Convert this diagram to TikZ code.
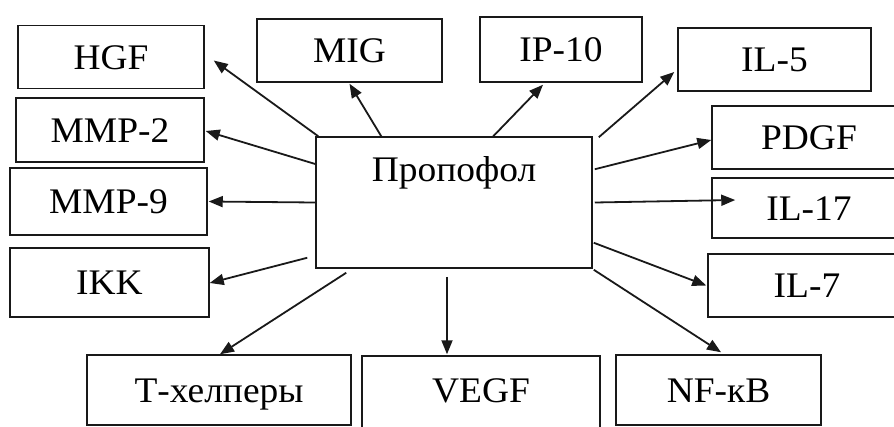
\documentclass[tikz,border=0pt]{standalone}
\usepackage{fontspec}
\setmainfont[FakeStretch=1.04]{Liberation Serif}
\usetikzlibrary{arrows.meta,calc}
\begin{document}
\begin{tikzpicture}[x=1pt,y=-1pt,
  box/.style={draw=black!90,line width=1.5pt,rectangle,inner sep=0pt,
    text height=24pt,text depth=0pt,font=\fontsize{36}{40}\selectfont},
  arr/.style={draw=black!90,line width=1.8pt,-{Triangle[length=14pt,width=11pt]}}]
\useasboundingbox (0,0) rectangle (894,426);
\clip (0,0) rectangle (894,426);
\node[box,minimum width=276,minimum height=131,
  label={[anchor=base,yshift=-45pt,inner sep=0pt,font=\fontsize{36}{40}\selectfont]north:Пропофол}] (c) at (454,202.5) {};
\node[box,minimum width=186,minimum height=63] (hgf) at (111,57) {HGF};
\node[box,minimum width=185,minimum height=63] (mig) at (349.5,50.5) {MIG};
\node[box,minimum width=162,minimum height=65] (ip) at (561,49.5) {IP-10};
\node[box,minimum width=193,minimum height=63] (il5) at (774.5,59.5) {IL-5};
\node[box,minimum width=194,minimum height=63] (pdgf) at (809,137.5) {PDGF};
\node[box,minimum width=194,minimum height=60] (il17) at (809,208) {IL-17};
\node[box,minimum width=198,minimum height=63] (il7) at (807,285.5) {IL-7};
\node[box,minimum width=188,minimum height=64] (mmp2) at (110,130) {MMP-2};
\node[box,minimum width=197,minimum height=67] (mmp9) at (108.5,201.5) {MMP-9};
\node[box,minimum width=199,minimum height=69] (ikk) at (109.5,282.5) {IKK};
\node[box,minimum width=264,minimum height=70] (th) at (219,390) {Т-хелперы};
\node[box,minimum width=238,minimum height=84] (vegf) at (481,398) {\raisebox{8pt}{VEGF}};
\node[box,minimum width=205,minimum height=70] (nfkb) at (718.5,390) {NF-кB};
\draw[arr] ($(c.north west)+(3,0)$) -- ($(hgf.east)+(9,3.5)$);
\draw[arr] ($(c.north west)+(66,0)$) -- ($(mig.south)+(0,1)$);
\draw[arr] ($(c.north west)+(178,0)$) -- ($(ip.south)+(-18,2)$);
\draw[arr] ($(c.north east)+(6,1)$) -- ($(il5.west)+(-3,12.5)$);
\draw[arr] ($(c.north east)+(2,33)$) -- ($(pdgf.west)+(0,2.5)$);
\draw[arr] ($(c.east)+(2,0)$) -- ($(il17.west)+(24,-8)$);
\draw[arr] ($(c.south east)+(1,-26)$) -- ($(il7.west)+(-1,0)$);
\draw[arr] ($(c.south east)+(1,1)$) -- ($(nfkb.north)+(2.5,-2)$);
\draw[arr] ($(c.south)+(-7,8)$) -- ($(vegf.north)+(-34,-1)$);
\draw[arr] ($(c.south west)+(31,4)$) -- ($(th.north)+(1,0)$);
\draw[arr] ($(c.south west)+(-8,-11)$) -- ($(ikk.east)+(0,0.5)$);
\draw[arr] (c.west) -- ($(mmp9.east)+(1,0)$);
\draw[arr] ($(c.west)+(0,-38.5)$) -- ($(mmp2.east)+(1,1)$);
\end{tikzpicture}
\end{document}
